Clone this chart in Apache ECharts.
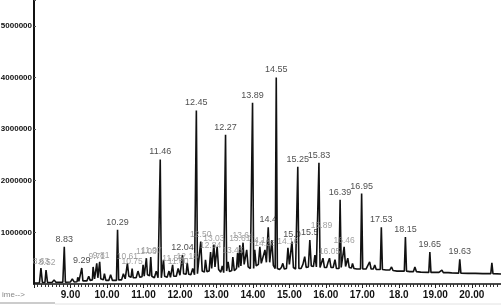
<!DOCTYPE html>
<html>
<head>
<meta charset="utf-8">
<style>
    html, body { margin: 0; padding: 0; background: #fff; }
    #main { width: 501px; height: 307px; }
</style>
<script src="https://cdn.jsdelivr.net/npm/echarts@6/dist/echarts.min.js"></script>
</head>
<body>
<div id="main"></div>
<script>
// 色谱图 (TIC), 强度单位: 千 (x1000)
var trace = [
    [8.00, 20], [8.15, 25], [8.19, 310], [8.23, 30], [8.30, 30], [8.33, 270], [8.37, 30],
    [8.50, 35], [8.55, 80], [8.60, 35], [8.72, 35], [8.75, 70], [8.79, 35], [8.81, 35],
    [8.83, 720], [8.86, 35], [9.00, 40], [9.05, 100], [9.10, 40], [9.18, 45], [9.20, 130],
    [9.23, 50], [9.28, 50], [9.31, 310], [9.34, 60], [9.45, 60], [9.50, 150], [9.54, 70],
    [9.60, 80], [9.62, 330], [9.66, 100], [9.70, 120], [9.72, 400], [9.75, 120], [9.78, 130],
    [9.80, 430], [9.83, 100], [9.90, 80], [9.93, 200], [9.97, 70], [10.05, 70], [10.10, 180],
    [10.15, 70], [10.26, 70], [10.29, 1050], [10.32, 80], [10.40, 80], [10.45, 200], [10.50, 100],
    [10.53, 100], [10.56, 400], [10.60, 150], [10.66, 130], [10.69, 300], [10.72, 120], [10.80, 120],
    [10.85, 250], [10.90, 130], [10.96, 140], [10.99, 370], [11.02, 150], [11.06, 160], [11.08, 500],
    [11.11, 180], [11.17, 160], [11.20, 520], [11.23, 150], [11.30, 120], [11.35, 250], [11.40, 120],
    [11.43, 110], [11.46, 2410], [11.49, 120], [11.52, 150], [11.55, 470], [11.58, 150], [11.65, 130],
    [11.70, 250], [11.74, 130], [11.77, 140], [11.80, 370], [11.83, 150], [11.90, 150], [11.95, 300],
    [12.00, 170], [12.04, 180], [12.07, 560], [12.10, 200], [12.17, 190], [12.20, 410], [12.24, 190],
    [12.30, 180], [12.35, 300], [12.40, 180], [12.42, 180], [12.45, 3360], [12.48, 200], [12.53, 220],
    [12.57, 820], [12.61, 250], [12.67, 230], [12.70, 470], [12.74, 240], [12.80, 250], [12.84, 620],
    [12.87, 300], [12.90, 320], [12.93, 760], [12.96, 330], [12.99, 320], [13.02, 720], [13.06, 280],
    [13.12, 230], [13.16, 350], [13.20, 220], [13.22, 220], [13.25, 2890], [13.28, 250], [13.32, 430],
    [13.36, 240], [13.42, 260], [13.45, 520], [13.49, 260], [13.55, 300], [13.58, 600], [13.61, 320],
    [13.64, 750], [13.67, 350], [13.70, 380], [13.73, 800], [13.76, 380], [13.80, 400], [13.83, 660],
    [13.87, 330], [13.93, 300], [13.96, 280], [13.99, 3510], [14.02, 300], [14.05, 660], [14.09, 350],
    [14.15, 380], [14.19, 720], [14.23, 400], [14.28, 400], [14.33, 660], [14.37, 420], [14.39, 430],
    [14.42, 1100], [14.46, 420], [14.49, 430], [14.52, 850], [14.56, 360], [14.61, 300], [14.64, 4000],
    [14.67, 300], [14.73, 280], [14.78, 320], [14.82, 400], [14.86, 290], [14.92, 300], [14.96, 700],
    [15.00, 380], [15.03, 380], [15.07, 820], [15.11, 320], [15.17, 290], [15.20, 290], [15.23, 2270],
    [15.26, 300], [15.32, 300], [15.37, 380], [15.42, 530], [15.46, 320], [15.52, 330], [15.56, 850],
    [15.60, 350], [15.66, 340], [15.70, 560], [15.74, 330], [15.78, 310], [15.81, 2350], [15.84, 320],
    [15.88, 330], [15.92, 500], [15.96, 320], [16.02, 320], [16.06, 420], [16.10, 500], [16.14, 320],
    [16.20, 320], [16.25, 470], [16.29, 300], [16.36, 300], [16.39, 1630], [16.42, 320], [16.47, 330],
    [16.50, 720], [16.54, 340], [16.57, 340], [16.60, 500], [16.64, 320], [16.70, 310], [16.73, 400],
    [16.77, 300], [16.85, 290], [16.95, 290], [16.98, 1750], [17.01, 290], [17.10, 290], [17.15, 320],
    [17.20, 430], [17.24, 290], [17.30, 290], [17.34, 370], [17.38, 280], [17.49, 280], [17.52, 1100],
    [17.55, 280], [17.65, 270], [17.70, 300], [17.75, 270], [17.80, 330], [17.84, 260], [17.95, 250],
    [18.05, 250], [18.15, 250], [18.18, 910], [18.21, 250], [18.30, 240], [18.40, 240], [18.44, 330],
    [18.48, 240], [18.60, 230], [18.82, 225], [18.85, 620], [18.88, 225], [19.10, 225], [19.18, 270],
    [19.22, 220], [19.35, 220], [19.40, 240], [19.45, 215], [19.64, 210], [19.67, 480], [19.70, 210],
    [19.90, 205], [20.10, 205], [20.30, 200], [20.52, 200], [20.55, 410], [20.58, 200], [20.80, 195]
];

// 峰标注: [时间, 峰高(千), 文本]
var peakLabels = [
    [8.83, 720, '8.83'], [9.31, 310, '9.29'], [10.29, 1050, '10.29'], [11.46, 2410, '11.46'],
    [12.07, 560, '12.04'], [12.45, 3360, '12.45'], [13.25, 2890, '12.27'], [13.99, 3510, '13.89'],
    [14.42, 1100, '14.4'], [14.64, 4000, '14.55'], [15.07, 820, '15.0'], [15.23, 2270, '15.25'],
    [15.56, 850, '15.5'], [15.81, 2350, '15.83'], [16.39, 1630, '16.39'], [16.98, 1750, '16.95'],
    [17.52, 1100, '17.53'], [18.18, 910, '18.15'], [18.85, 620, '19.65'], [19.67, 480, '19.63']
];
// 重叠的小峰标注 (灰色)
var minorLabels = [
    [8.19, 310, '8.63'], [8.36, 290, '8.52'], [9.72, 400, '9.71'], [9.84, 430, '9.81'],
    [10.56, 400, '10.61'], [10.69, 300, '10.75'], [11.08, 500, '11.03'], [11.22, 520, '11.07'],
    [11.80, 370, '11.55'], [11.95, 300, '11.80'], [12.20, 410, '12.15'], [12.57, 820, '12.50'],
    [12.93, 760, '13.03'], [12.84, 620, '12.84'], [13.45, 520, '13.45'], [13.64, 750, '13.61'],
    [13.73, 800, '13.64'], [14.19, 720, '14.14'], [14.33, 660, '14.28'], [14.96, 700, '14.16'],
    [15.88, 1000, '15.89'], [16.10, 500, '16.05'], [16.50, 720, '16.46']
];

var xTickLabels = { 9: '9.00', 10: '10.00', 11: '11.00', 12: '12.00', 13: '13.00', 14: '14.00',
    15: '15.00', 16: '16.00', 17: '17.00', 18: '18.0', 19: '19.00', 20: '20.00' };
var yTickLabels = { 1000000: '1000000', 2000000: '2000000', 3000000: '3000000',
    4000000: '4000000', 5000000: '5000000' };

var chart = echarts.init(document.getElementById('main'));

function toPoints(list, color) {
    return list.map(function (p) {
        return { name: p[2], value: [p[0], p[1] * 1000], label: { color: color } };
    });
}

var option = {
    animation: false,
    grid: { left: 34, right: 0, top: 0, bottom: 23, containLabel: false, outerBoundsMode: 'none' },
    xAxis: {
        type: 'value',
        min: 8,
        max: 20.8,
        interval: 1,
        axisLine: { show: true, lineStyle: { color: '#111', width: 1.5 } },
        axisTick: { show: true, length: 4, lineStyle: { color: '#222' } },
        minorTick: { show: true, splitNumber: 10, length: 3, lineStyle: { color: '#333' } },
        splitLine: { show: false },
        axisLabel: {
            margin: 6,
            fontSize: 10,
            fontWeight: 'bold',
            color: '#111',
            fontFamily: 'Liberation Sans',
            formatter: function (v) { return xTickLabels[v] || ''; }
        }
    },
    yAxis: {
        type: 'value',
        min: 0,
        max: 5500000,
        interval: 1000000,
        axisLine: { show: true, lineStyle: { color: '#111', width: 2 } },
        axisTick: { show: true, length: 2, inside: true, lineStyle: { color: '#555' } },
        splitLine: { show: false },
        axisLabel: {
            margin: 2,
            fontSize: 8,
            fontWeight: 'bold',
            color: '#111',
            fontFamily: 'Liberation Sans',
            formatter: function (v) { return yTickLabels[v] || ''; }
        }
    },
    series: [
        {
            type: 'line',
            data: trace.map(function (p) { return [p[0], p[1] * 1000]; }),
            symbol: 'none',
            lineStyle: { color: '#111', width: 1.6 },
            z: 3
        },
        {
            type: 'scatter',
            data: toPoints(minorLabels, '#8a8a8a'),
            symbolSize: 0.1,
            itemStyle: { color: 'transparent' },
            label: {
                show: true, position: 'top', distance: 2,
                fontSize: 8.5, fontFamily: 'Liberation Sans',
                formatter: function (p) { return p.name; }
            },
            z: 4
        },
        {
            type: 'scatter',
            data: toPoints(peakLabels, '#222'),
            symbolSize: 0.1,
            itemStyle: { color: 'transparent' },
            label: {
                show: true, position: 'top', distance: 3,
                fontSize: 9, fontFamily: 'Liberation Sans',
                formatter: function (p) { return p.name; }
            },
            z: 5
        }
    ],
    graphic: [
        { type: 'text', left: 2, top: 291, style: { text: 'ime-->', fontSize: 8, fill: '#888', fontFamily: 'Liberation Sans' } },
        { type: 'line', shape: { x1: 0, y1: 303, x2: 55, y2: 303 }, style: { stroke: '#999', lineWidth: 1 } },
        { type: 'line', shape: { x1: 55, y1: 304, x2: 501, y2: 304 }, style: { stroke: '#e2e2e2', lineWidth: 1 } }
    ]
};

chart.setOption(option);
</script>
</body>
</html>
